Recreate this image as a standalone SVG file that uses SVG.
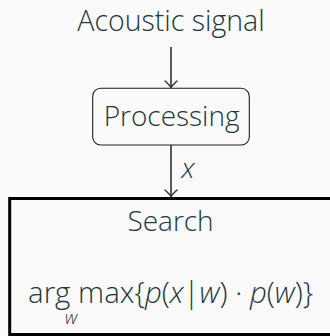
<svg xmlns="http://www.w3.org/2000/svg" width="330" height="336" viewBox="0 0 330 336">
  <style>
    .bg { fill: #fafafa; }
    .lbl { font-family: "Open Sans", "Liberation Sans", sans-serif; font-weight: 350; fill: #23373b; }
    .math { font-family: "Open Sans", "Liberation Sans", sans-serif; font-weight: 350; fill: #23373b; }
    .it { font-style: italic; }
    .edge { stroke: #23373b; stroke-width: 1.6; fill: none; }
    .tip { stroke: #23373b; stroke-width: 1.4; fill: none; stroke-linecap: round; }
  </style>
  <defs>
    <path id="tip" class="tip" d="M-6,-6.5 Q-1.5,-2.5 0,0 Q1.5,-2.5 6,-6.5"/>
  </defs>
  <rect class="bg" x="0" y="0" width="330" height="336"/>

  <g id="acoustic">
    <text class="lbl" x="171" y="30.7" font-size="28.5" text-anchor="middle">Acoustic signal</text>
  </g>

  <g id="processing">
    <rect x="92.7" y="88.3" width="156.6" height="56.7" rx="8" fill="#fafafa" stroke="#1c1c1c" stroke-width="1.1"/>
    <text class="lbl" x="171.6" y="125.7" font-size="28" text-anchor="middle">Processing</text>
  </g>

  <g id="search">
    <rect x="9.7" y="198.5" width="340" height="136" fill="#fafafa" stroke="#000" stroke-width="3"/>
    <text class="lbl" x="170.5" y="230.7" font-size="28" font-weight="400" text-anchor="middle">Search</text>
    <text class="math" x="28" y="303" font-size="29.5">arg max{<tspan class="it">p</tspan>(<tspan class="it">x</tspan>|<tspan class="it">w</tspan>) · <tspan class="it">p</tspan>(<tspan class="it">w</tspan>)}</text>
    <text class="math it" x="65" y="324" font-size="18">w</text>
  </g>

  <g id="connectors">
    <line class="edge" x1="171" y1="47" x2="171" y2="87.5"/>
    <use href="#tip" x="171" y="87.5"/>
    <line class="edge" x1="171" y1="145" x2="171" y2="196.5"/>
    <use href="#tip" x="171" y="196.5"/>
    <text class="lbl it" x="181.5" y="178" font-size="28">x</text>
  </g>
</svg>
